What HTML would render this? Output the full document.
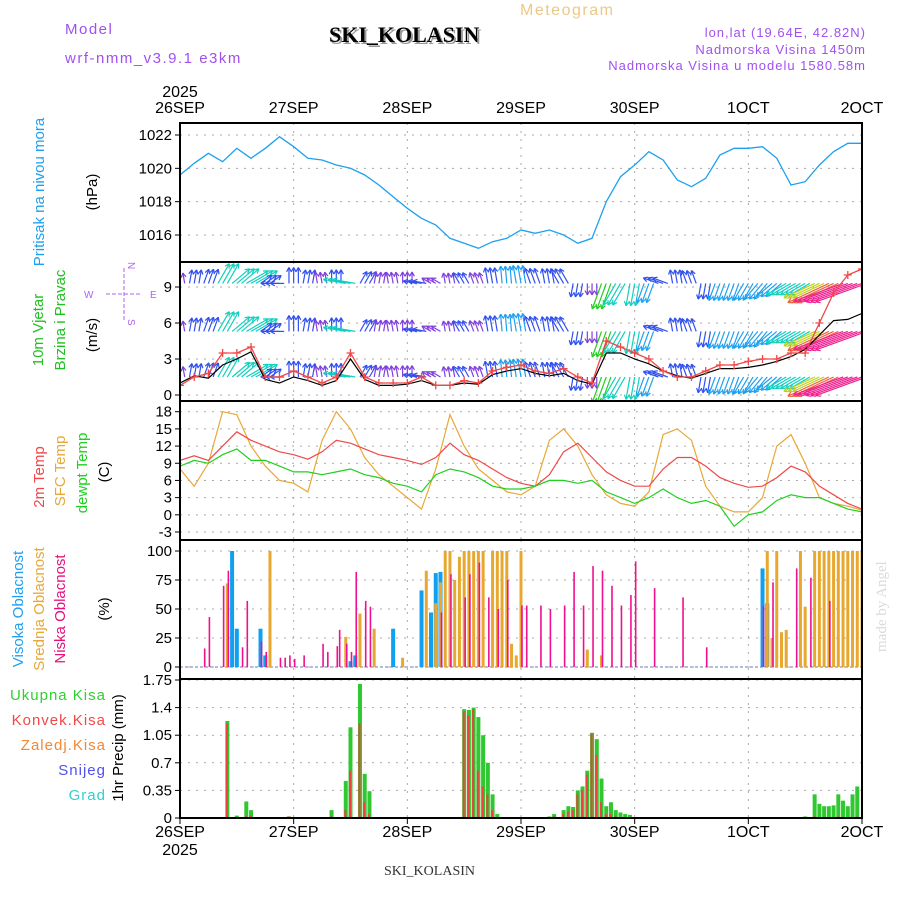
<!DOCTYPE html>
<html><head><meta charset="utf-8"><style>
body{margin:0;background:#fff;}
svg{display:block;font-family:"Liberation Sans",sans-serif;}
</style></head><body>
<svg id="chart" width="900" height="900" viewBox="0 0 900 900" xmlns="http://www.w3.org/2000/svg">
<rect width="900" height="900" fill="#fff"/>
<text x="65" y="34" fill="#a050f0" font-size="15" letter-spacing="1.5">Model</text>
<text x="65" y="63" fill="#a050f0" font-size="15" letter-spacing="1.5">wrf-nmm_v3.9.1 e3km</text>
<text x="520" y="15" fill="#ecc888" font-size="16" letter-spacing="1.5">Meteogram</text>
<text x="331" y="44" fill="#999" font-family="Liberation Serif,serif" font-weight="bold" font-size="22">SKI_KOLASIN</text>
<text x="329" y="42" fill="#000" font-family="Liberation Serif,serif" font-weight="bold" font-size="22">SKI_KOLASIN</text>
<g fill="#a050f0" font-size="13" text-anchor="end" letter-spacing="1">
<text x="866" y="37">lon,lat (19.64E, 42.82N)</text>
<text x="866" y="54">Nadmorska Visina 1450m</text>
<text x="866" y="70">Nadmorska Visina u modelu 1580.58m</text>
</g>
<text x="384" y="875" font-family="Liberation Serif,serif" font-size="14" fill="#333">SKI_KOLASIN</text>
<text transform="translate(886,652) rotate(-90)" font-family="Liberation Serif,serif" font-size="15" fill="#d8dcd8">made by Angel</text>
<g font-size="15">
<text transform="translate(44,192) rotate(-90)" text-anchor="middle" fill="#1ea0f0">Pritisak na nivou mora</text>
<text transform="translate(97,192) rotate(-90)" text-anchor="middle">(hPa)</text>
<text transform="translate(43,330) rotate(-90)" text-anchor="middle" fill="#20c020">10m Vjetar</text>
<text transform="translate(65,320) rotate(-90)" text-anchor="middle" fill="#20c020">Brzina i Pravac</text>
<text transform="translate(97,335) rotate(-90)" text-anchor="middle">(m/s)</text>
<text transform="translate(44,477) rotate(-90)" text-anchor="middle" fill="#f04848">2m Temp</text>
<text transform="translate(65,471) rotate(-90)" text-anchor="middle" fill="#e8a838">SFC Temp</text>
<text transform="translate(87,473) rotate(-90)" text-anchor="middle" fill="#20d020">dewpt Temp</text>
<text transform="translate(109,472) rotate(-90)" text-anchor="middle">(C)</text>
<text transform="translate(23,609) rotate(-90)" text-anchor="middle" fill="#1ea0f0">Visoka Oblacnost</text>
<text transform="translate(44,609) rotate(-90)" text-anchor="middle" fill="#e8a838">Srednja Oblacnost</text>
<text transform="translate(65,609) rotate(-90)" text-anchor="middle" fill="#e8107f">Niska Oblacnost</text>
<text transform="translate(109,609) rotate(-90)" text-anchor="middle">(%)</text>
<text transform="translate(123,748) rotate(-90)" text-anchor="middle">1hr Precip (mm)</text>
</g>
<g font-size="15" text-anchor="end" letter-spacing="1">
<text x="106" y="700" fill="#30d030">Ukupna  Kisa</text>
<text x="106" y="725" fill="#f04848">Konvek.Kisa</text>
<text x="106" y="750" fill="#f08838">Zaledj.Kisa</text>
<text x="106" y="775" fill="#5050f0">Snijeg</text>
<text x="106" y="800" fill="#30d0d0">Grad</text>
</g>
<g fill="#b060f0" stroke="#b060f0" font-size="10">
<line x1="106" y1="294" x2="142" y2="294" stroke-dasharray="4,2"/>
<line x1="124" y1="268" x2="124" y2="320" stroke-dasharray="4,2"/>
<text x="84" y="298" stroke="none">W</text><text x="150" y="298" stroke="none">E</text>
<text transform="translate(128,262) rotate(90)" stroke="none">N</text>
<text transform="translate(128,319) rotate(90)" stroke="none">S</text>
</g>
<g id="plots"></g>
</svg>
<script>
// ---------- data (3-hourly from 26SEP 00 UTC) ----------
const dayLabels=["26SEP","27SEP","28SEP","29SEP","30SEP","1OCT","2OCT"];
const pressure=[1019.6,1020.3,1020.9,1020.4,1021.2,1020.6,1021.2,1021.9,1021.3,1020.6,1020.5,1020.2,1020.0,1019.6,1019.0,1018.3,1017.6,1017.0,1016.6,1015.8,1015.5,1015.2,1015.6,1015.8,1016.3,1016.1,1016.3,1016.0,1015.5,1015.8,1018.0,1019.5,1020.2,1021.0,1020.5,1019.3,1018.9,1019.4,1020.8,1021.2,1021.2,1021.3,1020.6,1019.0,1019.2,1020.2,1021.0,1021.5,1021.5];
const windSpeed=[0.8,1.5,1.8,3.5,3.5,4.0,1.5,1.5,2.0,1.5,1.0,1.5,3.5,1.5,1.0,1.0,1.0,1.5,0.8,0.8,1.2,1.0,2.0,2.3,2.5,2.0,1.8,2.2,1.5,1.0,4.5,4.0,3.5,3.0,2.0,1.5,1.5,2.0,2.5,2.5,2.8,3.0,3.0,3.5,3.5,6.0,8.5,10.0,10.5];
const windMean=[1.0,1.6,1.4,2.5,3.0,3.6,1.3,1.0,1.5,1.2,0.8,1.2,3.0,1.3,0.8,0.8,0.9,1.2,0.8,0.8,1.0,0.9,1.7,2.0,2.2,1.8,1.6,1.8,1.2,0.9,3.5,3.5,3.0,2.6,2.0,1.6,1.4,1.8,2.2,2.2,2.3,2.5,2.8,3.2,3.8,5.0,6.2,6.3,6.8];
const windDir=[100,80,70,60,40,30,35,180,90,80,100,90,170,60,80,100,90,170,150,100,120,110,100,95,100,110,100,120,-100,-90,-110,-120,-100,-110,160,100,110,-100,-110,-110,-120,-130,-140,-150,-150,-155,-155,-160,-160];
const windRowSpd=[1.5,5.3,9.3];
const temp2m=[9.5,10.3,9.5,12,14.5,13,12,11,10.5,9.7,11,13,12.5,11.5,10.5,10,9.5,8.8,10,12.5,10.5,9.5,8,6.5,5.5,5,7,11,12.5,10,7.5,6,5,5,8,10,10,8.5,6.5,5.5,4.8,5,6.5,8.5,7.5,5,3.5,2,1];
const tempSfc=[8,5,9,18,17.5,12,8.5,6,5.5,4,13,18,15,10,7,5,3,1,8,17.5,12,8,6,4,3.5,5,13,15,12,7,3.5,2,1.5,4,14,15,13,5,1.5,0.5,0.5,3,12,14,9,3,2,1.5,0.8];
const tempDew=[8.5,9.5,9,10.5,11.5,9.5,9.5,8.5,7.5,7.5,7,7.5,8,7,6.5,5.5,5,4,7,8,7.5,6.5,5,4.5,4.5,5,6,6,5.5,6,4,3,2,3,4.5,3,2,2.5,1.5,-2,0,0.5,2.5,3.5,3,3,2,1,0.5];
// clouds (hour, %)
const lowHours=[5,6,9,10,13,14,17,18,21,22,23,24,26,30,31,33,33.5,35,36,37,39,40,55,57,60,61,63,65,67,69,72,73,76,78,81,83,85,87,89,91,93,95,96,100,106,111,123,125,130,133,137];
const lowVals=[16,43,70,83,17,57,22,13,8,8,10,7,10,20,13,18,32,20,13,82,57,52,47,80,60,80,90,60,50,75,53,53,53,50,53,82,53,87,83,70,53,62,91,68,60,17,53,73,85,77,57];
const midHours=[10,19,35,38,41,47,52,54,55,56,57,58,59,60,61,62,63,64,66,67,68,69,70,71,72,86,89,124,125,126,127,128,131,132,134,135,136,137,138,139,140,141,142,143,144];
const midVals=[72,100,26,46,33,8,83,55,73,100,100,75,95,100,100,100,100,100,100,100,100,100,20,10,100,15,10,100,25,100,30,32,100,52,100,100,100,100,100,100,100,100,100,100,100];
const highHours=[11,12,17,18,36,37,45,51,53,54,55,123,124];
const highVals=[100,33,33,10,5,10,33,66,47,81,82,85,55];
// precipitation (hour, mm)
const precipHours=[10,12,14,15,23,32,35,36,38,39,40,60,61,62,63,64,65,66,67,78,79,81,82,83,84,85,86,87,88,89,90,91,92,93,94,95,132,134,135,136,137,138,139,140,141,142,143];
const precipTotal=[1.23,0.03,0.21,0.1,0.02,0.1,0.47,1.15,1.7,0.56,0.34,1.38,1.37,1.4,1.28,1.05,0.7,0.3,0.05,0.02,0.05,0.1,0.15,0.14,0.35,0.4,0.6,1.08,1.0,0.5,0.15,0.2,0.1,0.07,0.05,0.04,0.02,0.3,0.18,0.15,0.15,0.16,0.3,0.22,0.15,0.3,0.4];
const precipConv=[1.2,0,0.02,0.03,0.02,0.02,0.1,0.6,1.2,0.2,0.05,1.35,1.3,1.38,0.6,0.4,0.3,0.1,0,0,0.02,0.05,0.08,0.1,0.3,0.35,0.55,1.07,0.8,0.2,0.05,0.05,0.02,0,0,0,0,0.02,0,0,0,0,0.02,0,0,0,0.02];

// ---------- layout ----------
const NS="http://www.w3.org/2000/svg";
const plots=document.getElementById('plots');
const X0=180,X1=862;
const xH=h=>X0+(X1-X0)*h/144;
const x3=i=>xH(i*3);
const panels=[{t:123,b:262},{t:262,b:401},{t:401,b:540},{t:540,b:679},{t:679,b:818}];
function mk(tag,attrs,parent){const e=document.createElementNS(NS,tag);for(const k in attrs)e.setAttribute(k,attrs[k]);(parent||plots).appendChild(e);return e;}
function linY(v0,y0,v1,y1){return v=>y0+(v-v0)*(y1-y0)/(v1-v0);}
const yP=linY(1022,135,1016,235);
const yW=linY(0,395,9,287);
const yT=linY(18,411.7,-3,532);
const yC=linY(0,667,100,551);
const yR=linY(0,818,1.75,680);

const defs=mk('defs',{});
panels.forEach((p,i)=>{const c=mk('clipPath',{id:'clip'+i},defs);mk('rect',{x:X0,y:p.t,width:X1-X0,height:p.b-p.t},c);});

function grid(pi,ticks,yf,labels){
  const g=mk('g',{});
  
  
  const p=panels[pi];
  ticks.forEach((v,k)=>{const y=yf(v);
    mk('line',{x1:X0,x2:X1,y1:y,y2:y,stroke:'#aaa','stroke-dasharray':'2,6'},g);
    mk('line',{x1:X0-5,x2:X0,y1:y,y2:y,stroke:'#000'},g);
    const t=mk('text',{x:X0-8,y:y+5,'text-anchor':'end','font-size':15},g);t.textContent=labels?labels[k]:v;
  });
  for(let d=1;d<6;d++){const x=xH(d*24);mk('line',{x1:x,x2:x,y1:p.t,y2:p.b,stroke:'#aaa','stroke-dasharray':'2,6'},g);}
}
grid(0,[1016,1018,1020,1022],yP);
grid(1,[0,3,6,9],yW);
grid(2,[-3,0,3,6,9,12,15,18],yT);
grid(3,[0,25,50,75,100],yC);
grid(4,[0,0.35,0.7,1.05,1.4,1.75],yR,["0","0.35","0.7","1.05","1.4","1.75"]);

function poly(arr,xf,yf,color,name,pi,w){
  const pts=arr.map((v,i)=>xf(i).toFixed(1)+','+yf(v).toFixed(1)).join(' ');
  const e=mk('polyline',{points:pts,fill:'none',stroke:color,'stroke-width':w||1.3,'clip-path':'url(#clip'+pi+')'});
  
  
  return e;
}
poly(pressure,x3,yP,'#1ea0f0','pressure-line',0);

// wind arrows
function spdColor(s){const c=['#8040e0','#3050f0','#1ea0f0','#10d0c0','#20d020','#c0d020','#f0a020','#f06040','#f02090'];return c[Math.min(8,Math.floor(s*0.9))];}
const wg=mk('g',{'clip-path':'url(#clip1)'});


windRowSpd.forEach(rs=>{
  windSpeed.forEach((s,i)=>{
    const len=7+s*4.5,a=windDir[i]*Math.PI/180,col=spdColor(s);
    for(const dx of [-4.7,0,4.7]){
      const x=x3(i)+dx,y=yW(rs);
      const x2=x+len*Math.cos(a),y2=y-len*Math.sin(a);
      const ar=mk('g',{stroke:col,'stroke-width':1.2},wg);
      
      
      mk('line',{x1:x,y1:y,x2:x2,y2:y2},ar);
      for(const d of[0.5,-0.5]){mk('line',{x1:x2,y1:y2,x2:x2-5*Math.cos(a+d),y2:y2+5*Math.sin(a+d)},ar);}
    }
  });
});
poly(windMean,x3,yW,'#000','wind-mean-line',1,1.2);
poly(windSpeed,x3,yW,'#f04848','wind-speed-line',1,1.3);
windSpeed.forEach((v,i)=>{const x=x3(i),y=yW(v);
  const m=mk('path',{d:`M${x-4},${y}H${x+4}M${x},${y-4}V${y+4}`,stroke:'#f04848','stroke-width':1.3,'clip-path':'url(#clip1)'});
  
  
});

poly(tempSfc,x3,yT,'#e8a838','sfc-temp-line',2,1.2);
poly(temp2m,x3,yT,'#f04848','temp-2m-line',2,1.2);
poly(tempDew,x3,yT,'#20d020','dewpoint-line',2,1.2);

mk('line',{x1:X0,x2:X1,y1:667,y2:667,stroke:'#9ac','stroke-width':1.5,'stroke-dasharray':'3,2'});
function bars(hours,vals,yf,color,w,name,off,pi){
  hours.forEach((h,i)=>{const y=yf(vals[i]),y0=yf(0);
    const r=mk('rect',{x:xH(h)-w/2+off,y:y,width:w,height:Math.max(0,y0-y),fill:color,'clip-path':'url(#clip'+pi+')'});
    
    
  });
}
bars(highHours,highVals,yC,'#10a0f0',4,'high-cloud-bar',0,3);
bars(midHours,midVals,yC,'#e8a830',3,'mid-cloud-bar',0,3);
bars(lowHours,lowVals,yC,'#f0108f',1.6,'low-cloud-bar',1,3);
bars(precipHours,precipTotal,yR,'#30c830',4,'total-precip-bar',0,4);
bars(precipHours,precipConv,yR,'#f04040',2,'conv-precip-bar',-0.5,4);

panels.forEach((p,i)=>{const r=mk('rect',{x:X0,y:p.t,width:X1-X0,height:p.b-p.t,fill:'none',stroke:'#000','stroke-width':2});
  
  });
dayLabels.forEach((d,i)=>{const x=xH(i*24);
  const t1=mk('text',{x:x,y:113,'text-anchor':'middle','font-size':16});t1.textContent=d;
  
  
  const t2=mk('text',{x:x,y:837,'text-anchor':'middle','font-size':16});t2.textContent=d;
  
  
  mk('line',{x1:x,x2:x,y1:818,y2:824,stroke:'#000'});
});
const y1=mk('text',{x:X0,y:97,'text-anchor':'middle','font-size':16});y1.textContent='2025';


const y2=mk('text',{x:X0,y:855,'text-anchor':'middle','font-size':16});y2.textContent='2025';


</script>
</body></html>
